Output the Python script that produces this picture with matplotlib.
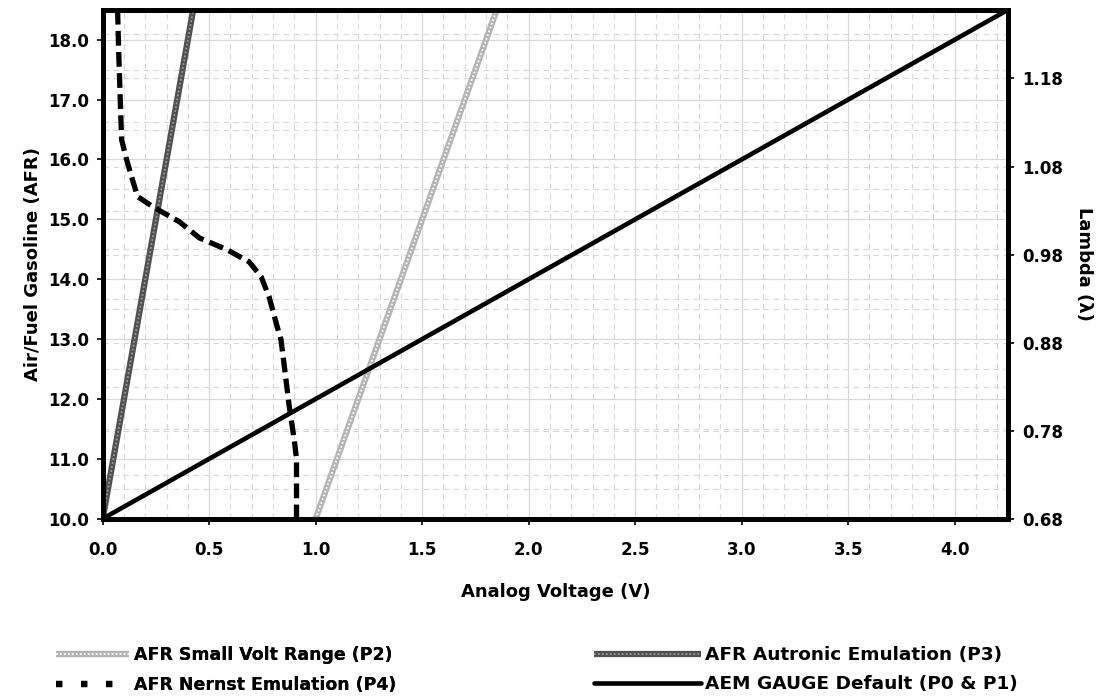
import matplotlib
matplotlib.use('Agg')
import matplotlib.pyplot as plt
from matplotlib.ticker import MultipleLocator, FixedLocator

plt.rcParams['font.family'] = ['DejaVu Sans']
plt.rcParams['font.weight'] = 'bold'

# Voltage / AFR curves for each output mode
small_volt_v = [1.0, 2.0]
small_volt_afr = [10.0, 20.0]

autronic_v = [0.0, 0.5]
autronic_afr = [10.0, 20.0]

nernst_v = [0.07, 0.075, 0.08, 0.084, 0.089, 0.112, 0.14, 0.164, 0.24, 0.36,
            0.454, 0.585, 0.688, 0.744, 0.781, 0.819, 0.837, 0.851, 0.875,
            0.9, 0.91, 0.91]
nernst_afr = [18.5, 17.83, 17.28, 16.83, 16.33, 16.0, 15.66, 15.38, 15.2, 14.96,
              14.69, 14.49, 14.29, 14.04, 13.71, 13.21, 12.99, 12.6, 11.9,
              11.3, 11.0, 10.0]

gauge_v = [0.0, 5.0]
gauge_afr = [10.0, 20.0]

x_ticks = [0.0, 0.5, 1.0, 1.5, 2.0, 2.5, 3.0, 3.5, 4.0]
afr_ticks = [10.0, 11.0, 12.0, 13.0, 14.0, 15.0, 16.0, 17.0, 18.0]
lambda_ticks = [0.68, 0.78, 0.88, 0.98, 1.08, 1.18]

x_max = 4.25
afr_min, afr_max = 10.0, 18.5
stoich = 10.0 / 0.68

fig = plt.figure(figsize=(11.04, 7), dpi=100)
ax = fig.add_axes([0.093, 0.259, 0.82, 0.727])
ax2 = ax.twinx()

# keep the main axes (and its lines) above the lambda grid
ax.set_zorder(ax2.get_zorder() + 1)
ax.patch.set_visible(False)

ax.set_xlim(0, x_max)
ax.set_ylim(afr_min, afr_max)
ax2.set_ylim(afr_min / stoich, afr_max / stoich)

ax.xaxis.set_major_locator(FixedLocator(x_ticks))
ax.xaxis.set_minor_locator(MultipleLocator(0.1))
ax.yaxis.set_major_locator(FixedLocator(afr_ticks))
ax.yaxis.set_minor_locator(MultipleLocator(0.5))
ax2.yaxis.set_major_locator(FixedLocator(lambda_ticks))
ax2.yaxis.set_minor_locator(FixedLocator([t + 0.05 for t in lambda_ticks]))

ax.set_xticklabels([f'{t:.1f}' for t in x_ticks])
ax.set_yticklabels([f'{t:.1f}' for t in afr_ticks])
ax2.set_yticklabels([f'{t:.2f}' for t in lambda_ticks])

ax.grid(which='major', color='#d8d8d8', linewidth=0.9, linestyle='-')
ax.grid(which='minor', color='#d8d8d8', linewidth=0.8, linestyle=(0, (5, 4)))
ax2.grid(which='both', axis='y', color='#d8d8d8', linewidth=0.8, linestyle=(0, (5, 4)))

for a in (ax, ax2):
    a.tick_params(which='major', direction='out', length=4, width=1.2,
                  labelsize=12, pad=6)
    a.tick_params(which='minor', length=0)
    for s in a.spines.values():
        s.set_linewidth(3.5)
        s.set_color('black')
ax.tick_params(axis='x', pad=12)

# small volt range: light gray speckled band
sv_base, = ax.plot(small_volt_v, small_volt_afr, color='#b4b4b4', lw=4.5,
                   solid_capstyle='butt')
sv_top, = ax.plot(small_volt_v, small_volt_afr, color='white', lw=1.3,
                  linestyle=(0, (1, 1.2)))

# autronic emulation: dark gray speckled band
au_base, = ax.plot(autronic_v, autronic_afr, color='#505050', lw=4.5,
                   solid_capstyle='butt')
au_top, = ax.plot(autronic_v, autronic_afr, color='#9a9a9a', lw=1.3,
                  linestyle=(0, (1, 1.2)))

ne_line, = ax.plot(nernst_v, nernst_afr, color='black', lw=3.8,
                   linestyle=(0, (2.8, 1.2)), dash_capstyle='butt')

ga_line, = ax.plot(gauge_v, gauge_afr, color='black', lw=3.3,
                   solid_capstyle='round')

ax.set_xlabel('Analog Voltage (V)', fontsize=13, fontweight='bold', labelpad=17)
ax.set_ylabel('Air/Fuel Gasoline (AFR)', fontsize=13, fontweight='bold', labelpad=4)
ax2.set_ylabel('Lambda (λ)', fontsize=13, fontweight='bold', rotation=270,
               labelpad=22)

ne_handle = plt.Line2D([], [], color='black', lw=4.5, linestyle=(0, (1, 3)),
                       dash_capstyle='butt')

leg1 = fig.legend([(sv_base, sv_top), ne_handle],
                  ['AFR Small Volt Range (P2)', 'AFR Nernst Emulation (P4)'],
                  loc='upper left', bbox_to_anchor=(0.051, 0.077),
                  frameon=False, fontsize=12.5, handlelength=4.2,
                  handletextpad=0.25, labelspacing=0.7, borderaxespad=0,
                  borderpad=0)
fig.add_artist(leg1)

leg2 = fig.legend([(au_base, au_top), ga_line],
                  ['AFR Autronic Emulation (P3)', 'AEM GAUGE Default (P0 & P1)'],
                  loc='upper left', bbox_to_anchor=(0.538, 0.077),
                  frameon=False, fontsize=13.3, handlelength=5.8,
                  handletextpad=0.22, labelspacing=0.6, borderaxespad=0,
                  borderpad=0)

fig.savefig('out.png', dpi=100)
